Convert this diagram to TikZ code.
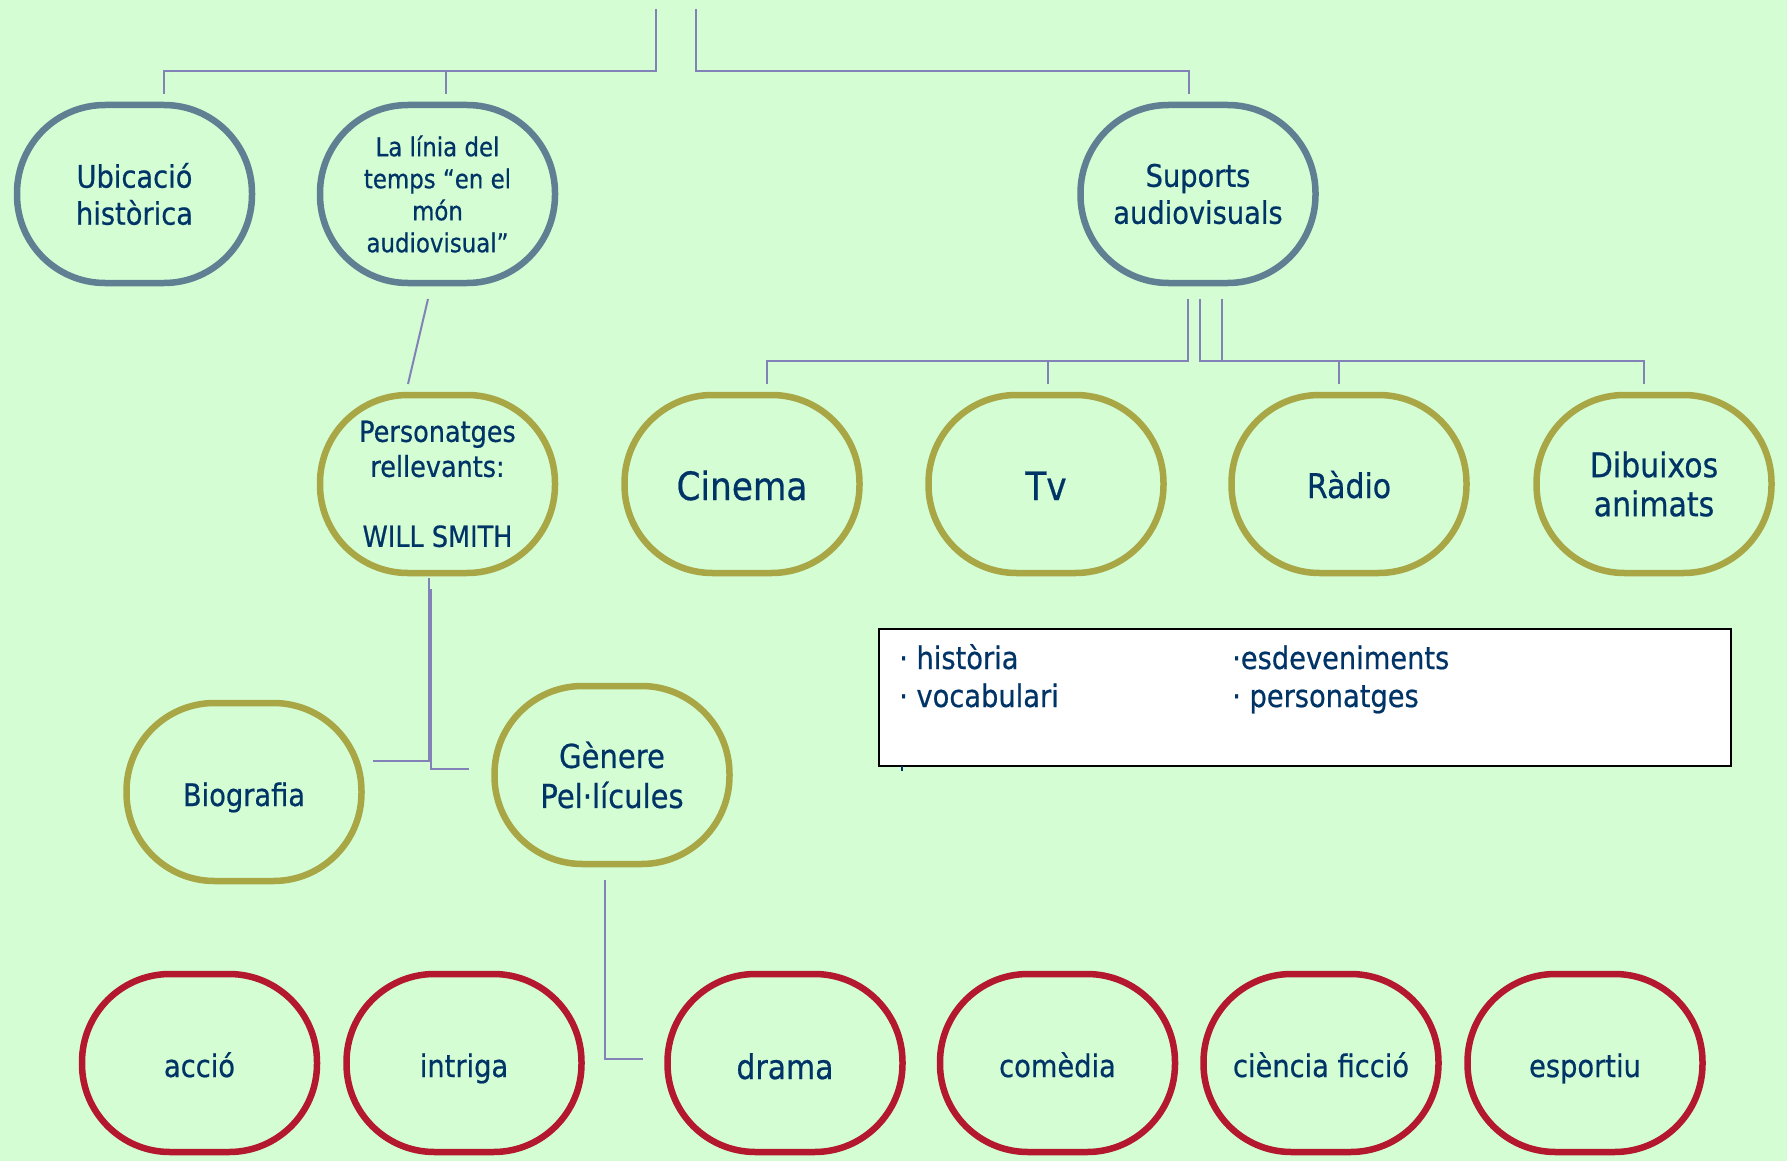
\documentclass[tikz,border=0pt]{standalone}
\usepackage{fontspec}
\setmainfont{DejaVu Sans}[FakeStretch=0.88, FakeBold=0.6]

\definecolor{paper}{HTML}{D4FDD4}
\definecolor{ink}{HTML}{003366}
\definecolor{slate}{HTML}{5F7F92}
\definecolor{olive}{HTML}{A9A646}
\definecolor{crimson}{HTML}{B4182E}
\definecolor{wire}{HTML}{8282B8}

\newcommand{\fs}[2]{\fontsize{#1}{#2}\selectfont}

\begin{document}
\begin{tikzpicture}[x = 1pt, y = -1pt,
	bubble/.style = {draw, rectangle, rounded corners = 88pt, line width = 6.5pt,
		text = ink, align = center, inner sep = 0pt,
		minimum width = 235pt, minimum height = 178pt},
	oneline/.style = {text height = 30pt, text depth = 2pt},
	bigline/.style = {text height = 34pt, text depth = 2pt},
	link/.style = {wire, line width = 2pt}]

	% Page
	
	\fill [paper] (0, 0) rectangle (1787, 1161);
	\useasboundingbox (0, 0) rectangle (1787, 1161);
	
	% First row
	
	\begin{scope}[every node/.append style = {bubble, draw = slate}]
	
		\node (ubicacio) at (134.5, 194) [font = \fs{31}{37}] {Ubicació\\històrica};
		\node (linia) at (437.5, 194) [font = \fs{26}{32}] {La línia del\\temps “en el\\món\\audiovisual”};
		\node (suports) at (1198, 194) [font = \fs{31}{37}] {Suports\\audiovisuals};
		
	\end{scope}
	
	% Second and third rows
	
	\begin{scope}[every node/.append style = {bubble, draw = olive}]
	
		\node (personatges) at (437.5, 484) [font = \fs{29}{35}] {Personatges\\rellevants:\\[35pt]WILL SMITH};
		\node (cinema) at (742, 484) [font = \fs{39}{45}, bigline] {Cinema};
		\node (tv) at (1046, 484) [font = \fs{39}{45}, bigline] {Tv};
		\node (radio) at (1349, 484) [font = \fs{34}{39}, oneline] {Ràdio};
		\node (dibuixos) at (1654, 484) [font = \fs{34}{39}] {Dibuixos\\animats};
		
		\node (biografia) at (244, 792) [font = \fs{31}{37}, oneline] {Biografia};
		\node (genere) at (612, 775) [font = \fs{33}{40}] {Gènere\\Pel·lícules};
		
	\end{scope}
	
	% Film genres
	
	\begin{scope}[every node/.append style = {bubble, draw = crimson, font = \fs{31}{37}, oneline}]
	
		\node (accio) at (199.5, 1063) {acció};
		\node (intriga) at (464, 1063) {intriga};
		\node (drama) at (785, 1063) [font = \fs{34}{40}, bigline] {drama};
		\node (comedia) at (1057.5, 1063) {comèdia};
		\node (ciencia) at (1321, 1063) {ciència ficció};
		\node (esportiu) at (1585, 1063) {esportiu};
		
	\end{scope}
	
	% Loose ends of the connectors
	
	\coordinate (root-l) at (656, 9);
	\coordinate (root-r) at (696, 9);
	\coordinate (ubicacio-in) at (164, 94);
	\coordinate (linia-in) at (446, 94);
	\coordinate (suports-in) at (1189, 94);
	\coordinate (linia-out) at (428, 299);
	\coordinate (personatges-in) at (408, 384);
	\coordinate (suports-a) at (1188, 299);
	\coordinate (suports-b) at (1200, 299);
	\coordinate (suports-c) at (1222, 299);
	\coordinate (cinema-in) at (767, 384);
	\coordinate (tv-in) at (1048, 384);
	\coordinate (radio-in) at (1339, 384);
	\coordinate (dibuixos-in) at (1644, 384);
	\coordinate (personatges-a) at (429, 578);
	\coordinate (personatges-b) at (431, 589);
	\coordinate (biografia-in) at (373, 761);
	\coordinate (genere-in) at (469, 769);
	\coordinate (genere-out) at (605, 880);
	\coordinate (drama-in) at (643, 1059);
	
	% Connectors
	
	\begin{scope}[link]
	
		\draw (root-l) -- ++(0, 62) coordinate (bus-l) -| (ubicacio-in);
		\draw (linia-in |- bus-l) -- (linia-in);
		\draw (root-r) -- ++(0, 62) -| (suports-in);
		
		\draw (linia-out) -- (personatges-in);
		
		\draw (suports-a) -- ++(0, 62) coordinate (bus-a) -| (cinema-in);
		\draw (tv-in |- bus-a) -- (tv-in);
		\draw (suports-b) -- ++(0, 62) -| (radio-in);
		\draw (suports-c) -- ++(0, 62) -| (dibuixos-in);
		
		\draw (personatges-a) |- (biografia-in);
		\draw (personatges-b) |- (genere-in);
		\draw (genere-out) |- (drama-in);
		
	\end{scope}
	
	% Key words box
	
	\node (keys) [draw = black, line width = 2pt, fill = white, inner sep = 0pt,
		minimum width = 852pt, minimum height = 137pt, anchor = north west] at (877.5, 628) {};
	
	\begin{scope}[every node/.append style = {anchor = base west, text = ink, inner sep = 0pt, font = \fs{31}{36}}]
	
		\node (historia) at (899, 669) {· història};
		\node (vocabulari) at (899, 707) {· vocabulari};
		\node (esdeveniments) at (1232, 669) {·esdeveniments};
		\node (personatges-k) at (1232, 707) {· personatges};
		
	\end{scope}
	
	\draw [ink, line width = 2pt] (902, 766) -- (902, 771);

\end{tikzpicture}
\end{document}
